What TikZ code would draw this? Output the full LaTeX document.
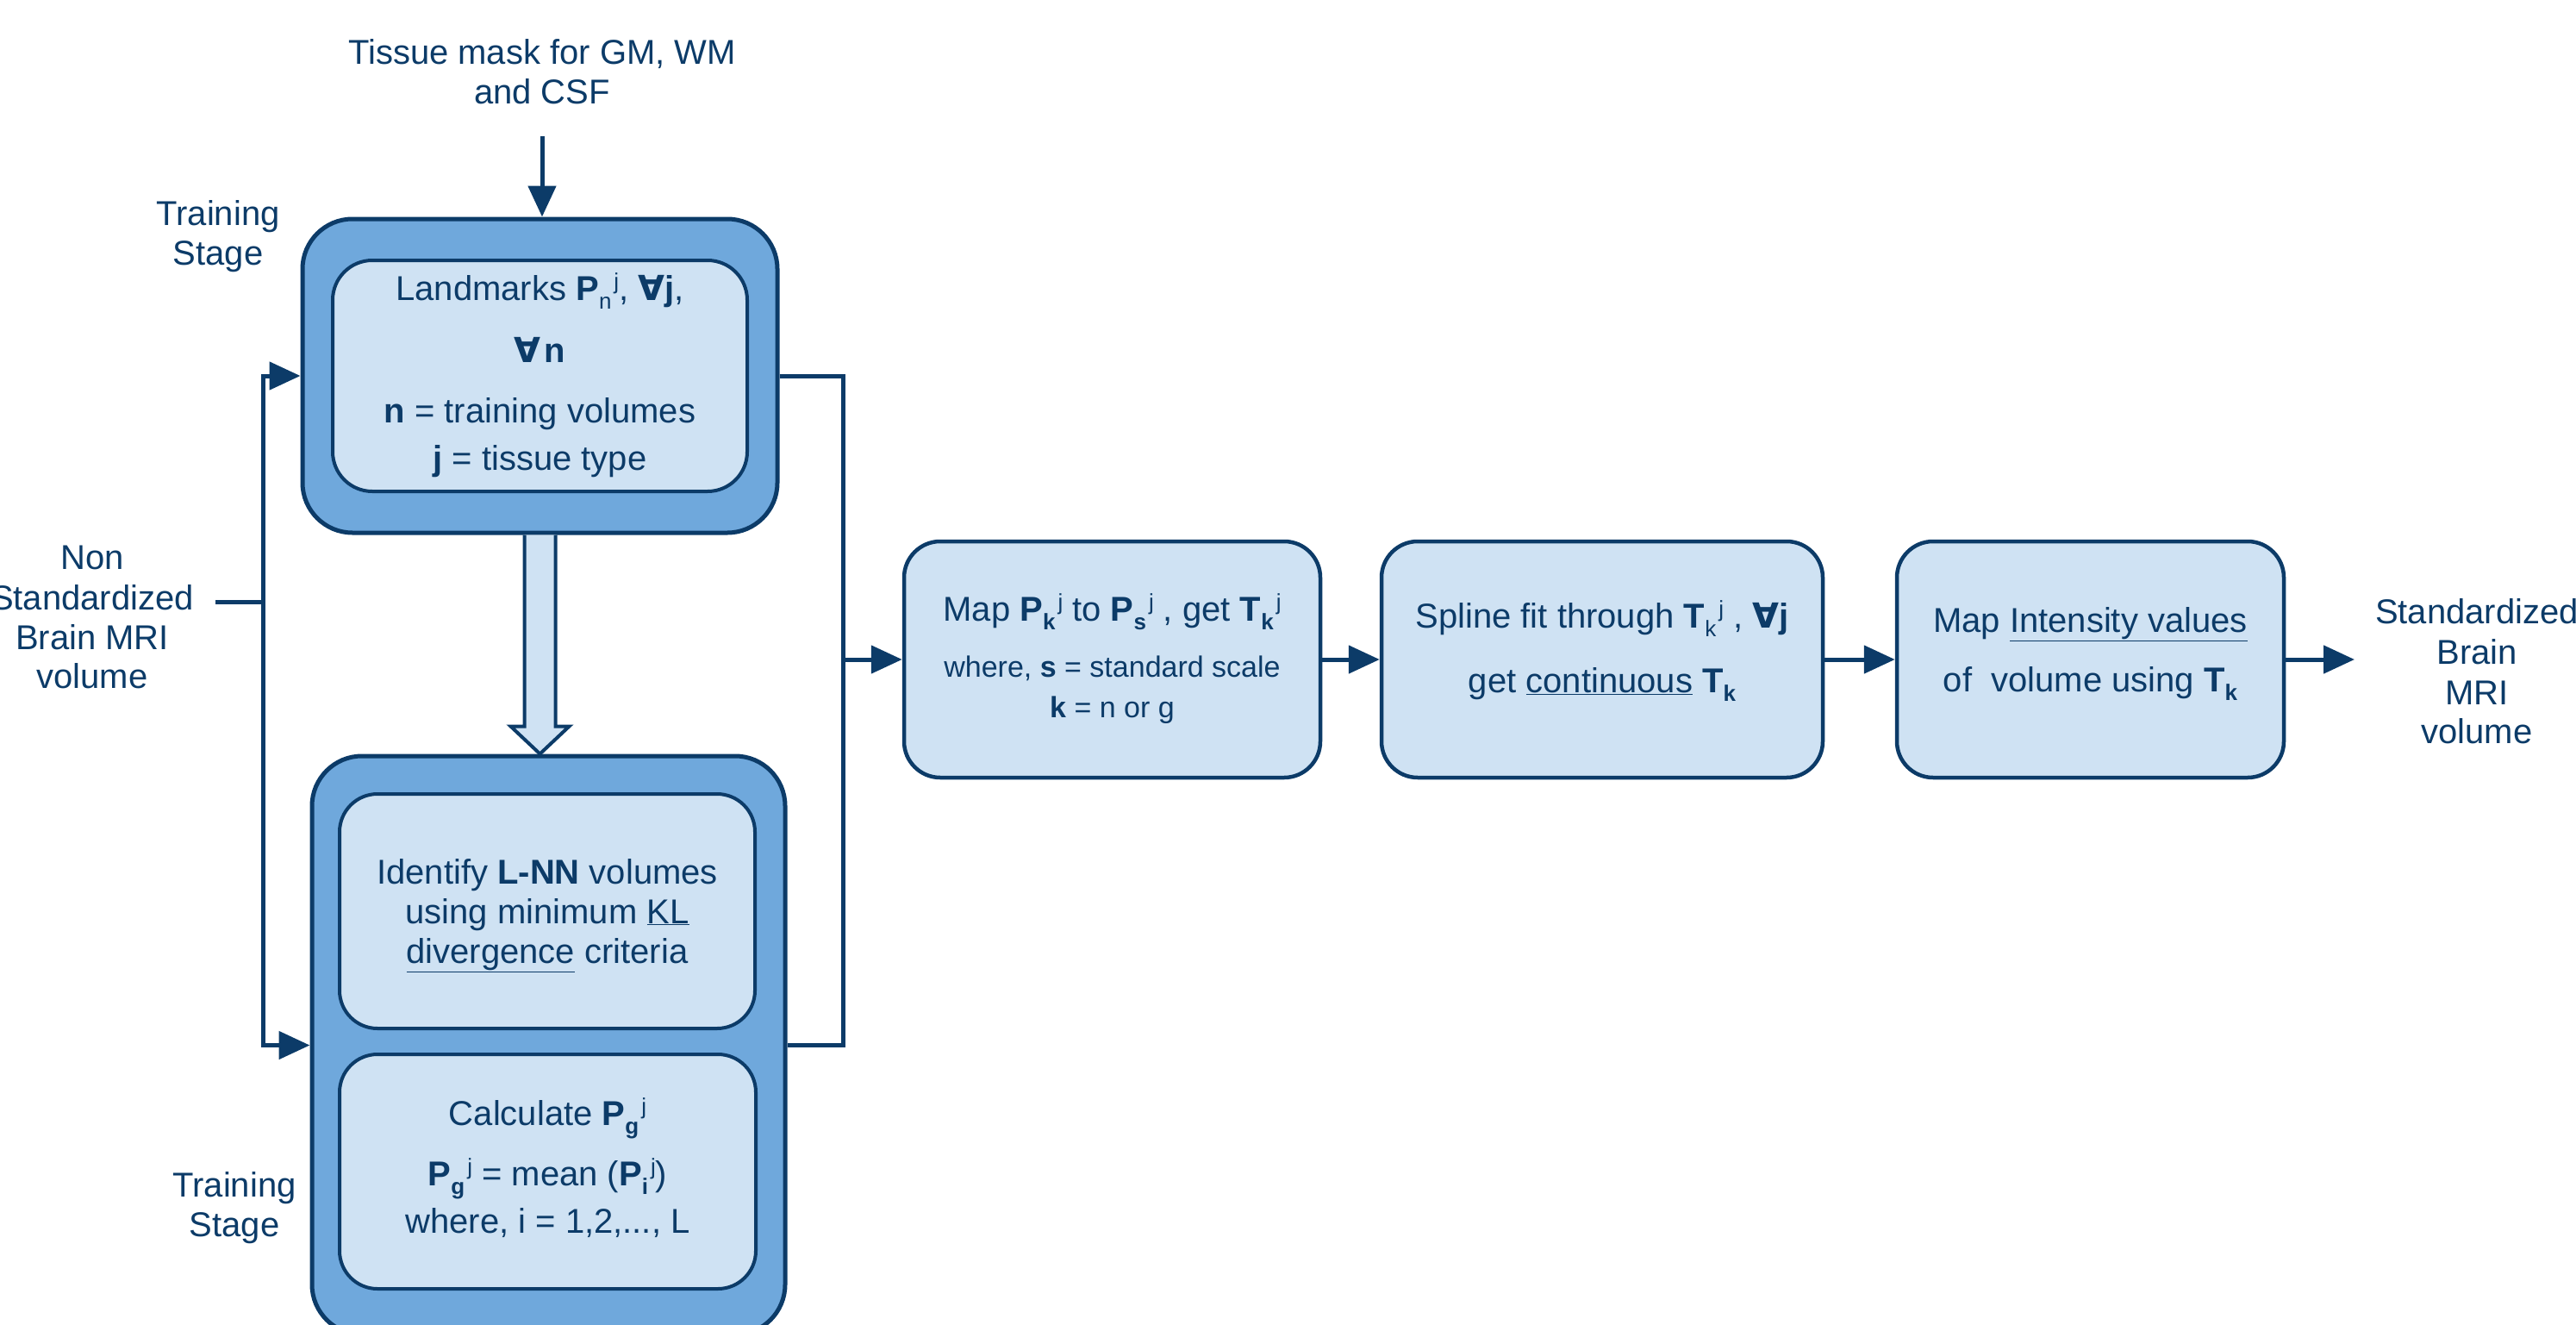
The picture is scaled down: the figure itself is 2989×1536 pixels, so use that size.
\documentclass[tikz,border=0pt]{standalone}
\usepackage{fontspec}
\setmainfont{Liberation Sans}
\newfontfamily\dvfont{DejaVu Sans}
\usetikzlibrary{arrows.meta,calc}
\definecolor{navy}{HTML}{0C3B68}
\definecolor{outerblue}{HTML}{6FA8DC}
\definecolor{innerblue}{HTML}{CFE2F3}
\newcommand\fa{{\dvfont\bfseries ∀}}
\newcommand\SubSup[3][\bfseries]{\raisebox{-10pt}{\fontsize{26}{26}\selectfont #1#2}\kern3pt\raisebox{13pt}{\fontsize{26}{26}\selectfont\mdseries #3}}
\newcommand\SubOnly[2][\bfseries]{\raisebox{-10pt}{\fontsize{26}{26}\selectfont #1#2}}
\begin{document}
\begin{tikzpicture}[x=1pt,y=-1pt,
  every node/.style={text=navy, font=\fontsize{40}{46}\selectfont},
  outerbox/.style={draw=navy, line width=5pt, fill=outerblue, rounded corners=58pt, inner sep=0pt},
  innerbox/.style={draw=navy, line width=4pt, fill=innerblue, rounded corners=46pt, inner sep=0pt},
  procbox/.style={draw=navy, line width=4.5pt, fill=innerblue, rounded corners=42pt, inner sep=0pt},
  txt/.style={anchor=base, inner sep=0pt},
  small/.style={font=\fontsize{34}{40}\selectfont},
  conn/.style={draw=navy, line width=5pt},
  arr/.style={conn, -{Triangle[length=36pt,width=32pt]}},
  hollow/.style={draw=navy, line width=4pt, fill=innerblue, line join=miter},
]
\useasboundingbox (0,0) rectangle (2989,1536);
\clip (0,0) rectangle (2989,1536);

% boxes
\node[outerbox, minimum width=551pt, minimum height=364pt] (topOuter) at (626.5,436) {};
\node[innerbox, minimum width=481pt, minimum height=268pt] (topInner) at (626.5,436) {};
\node[outerbox, minimum width=549pt, minimum height=671pt] (botOuter) at (636.5,1212.5) {};
\node[innerbox, rounded corners=44pt, minimum width=482pt, minimum height=272pt] (ident) at (635,1057) {};
\node[innerbox, rounded corners=44pt, minimum width=483pt, minimum height=272pt] (calc) at (635.5,1359) {};
\node[procbox, minimum width=483pt, minimum height=274pt] (map) at (1290.5,765) {};
\node[procbox, minimum width=512pt, minimum height=274pt] (spline) at (1859,765) {};
\node[procbox, minimum width=449pt, minimum height=274pt] (inten) at (2425.5,765) {};

% hollow arrow between training stages
\coordinate (hTip) at (topOuter.south |- botOuter.north);
\draw[hollow] ($(topOuter.south)+(-18,0)$) -- ($(hTip)+(-18,-32)$) -- ($(hTip)+(-34,-32)$)
  -- (hTip) -- ($(hTip)+(34,-32)$) -- ($(hTip)+(18,-32)$) -- ($(topOuter.south)+(18,0)$);

% connectors
\coordinate (tm) at (629,158);
\draw[arr] (tm) -- (tm |- topOuter.north);

\coordinate (ns) at (250,698);
\coordinate (jl) at (305,698);
\draw[conn] (ns) -- (jl);
\draw[conn, line cap=rect] (jl |- topOuter.west) -- (jl |- botOuter.west);
\draw[arr] (jl |- topOuter.west) -- (topOuter.west);
\draw[arr] (jl |- botOuter.west) -- (botOuter.west);

\coordinate (jr) at (978,765);
\draw[conn] (topOuter.east) -| (jr) |- (botOuter.east);
\draw[arr] (jr) -- (map.west);
\draw[arr] (map.east) -- (spline.west);
\draw[arr] (spline.east) -- (inten.west);
\coordinate (out) at (2732,765);
\draw[arr] (inten.east) -- (out);

% outside texts
\node[txt] (tm1) at (629,75) {Tissue mask for GM, WM};
\node[txt] (tm2) at (629,121) {and CSF};
\node[txt] (ts1) at (253,261) {Training};
\node[txt] (ts2) at (253,307) {Stage};
\node[txt] (ts3) at (272,1388) {Training};
\node[txt] (ts4) at (272,1434) {Stage};
\node[txt] (in1) at (107,660) {Non};
\node[txt] (in2) at (107,707) {Standardized};
\node[txt] (in3) at (107,753) {Brain MRI};
\node[txt] (in4) at (107,798) {volume};
\node[txt] (o1) at (2874,723) {Standardized};
\node[txt] (o2) at (2874,770) {Brain};
\node[txt] (o3) at (2874,817) {MRI};
\node[txt] (o4) at (2874,862) {volume};

% top inner box text
\node[txt] (l1) at (626.5,348) {Landmarks \textbf{P}\SubSup[\mdseries]{n}{j}, \fa\textbf{j},};
\node[txt] (l2) at (626.5,420) {\fa\kern4pt\textbf{n}};
\node[txt] (l3) at (626.5,490) {\textbf{n} = training volumes};
\node[txt] (l4) at (626.5,545) {\textbf{j} = tissue type};

% identify
\node[txt] (i1) at (635,1025) {Identify \textbf{L-NN} volumes};
\node[txt] (i2) at (635,1071) {using minimum \underline{KL}};
\node[txt] (i3) at (635,1117) {\underline{divergence} criteria};

% calculate
\node[txt] (c1) at (635.5,1305) {Calculate \textbf{P}\SubSup{g}{j}};
\node[txt] (c2) at (635.5,1375) {\textbf{P}\SubSup{g}{j} = mean (\textbf{P}\SubSup{i}{j})};
\node[txt] (c3) at (635.5,1430) {where, i = 1,2,..., L};

% map
\node[txt] (m1) at (1290.5,720) {Map \textbf{P}\SubSup{k}{j} to \textbf{P}\SubSup{s}{j} , get \textbf{T}\SubSup{k}{j}};
\node[txt, small] (m2) at (1290.5,785) {where, \textbf{s} = standard scale};
\node[txt, small] (m3) at (1290.5,832) {\textbf{k} = n or g};

% spline
\node[txt] (s1) at (1859,728) {Spline fit through \textbf{T}\SubSup[\mdseries]{k}{j} , \fa\textbf{j}};
\node[txt] (s2) at (1859,803) {get \underline{continuous} \textbf{T}\SubOnly{k}};

% intensity
\node[txt] (n1) at (2425.5,733) {Map \underline{Intensity values}};
\node[txt] (n2) at (2425.5,802) {of\ \ volume using \textbf{T}\SubOnly{k}};
\end{tikzpicture}
\end{document}
